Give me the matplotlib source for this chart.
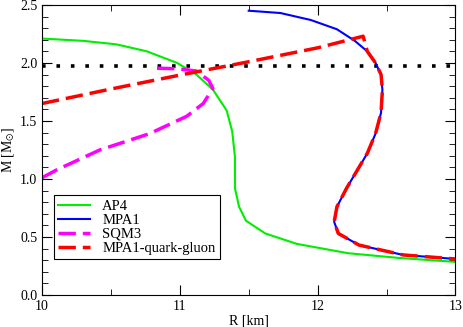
import numpy as np
import matplotlib
matplotlib.use("Agg")
import matplotlib.pyplot as plt
from matplotlib.ticker import MultipleLocator

plt.rcParams['font.family'] = ['Liberation Serif', 'DejaVu Serif']
plt.rcParams['mathtext.fontset'] = 'stix'

# mass-radius curves (R in km, M in solar masses)
ap4_r = [10.0, 10.30, 10.54, 10.76, 10.98, 11.12, 11.24, 11.34, 11.38, 11.40,
         11.40, 11.43, 11.48, 11.62, 11.85, 12.22, 12.58, 13.0]
ap4_m = [2.21, 2.19, 2.16, 2.10, 2.00, 1.90, 1.77, 1.59, 1.41, 1.19,
         0.92, 0.76, 0.64, 0.53, 0.44, 0.36, 0.32, 0.285]

mpa1_r = [11.50, 11.73, 11.95, 12.14, 12.27, 12.36, 12.42, 12.46, 12.47, 12.46,
          12.42, 12.36, 12.29, 12.21, 12.14, 12.12, 12.15, 12.30, 12.62, 13.0]
mpa1_m = [2.45, 2.43, 2.37, 2.29, 2.19, 2.10, 2.00, 1.90, 1.77, 1.57,
          1.39, 1.22, 1.08, 0.92, 0.76, 0.63, 0.53, 0.43, 0.345, 0.31]

sqm3_r = [10.0, 10.11, 10.42, 10.78, 11.05, 11.17, 11.24, 11.21, 11.12, 10.98, 10.81]
sqm3_m = [1.01, 1.08, 1.25, 1.39, 1.54, 1.65, 1.78, 1.85, 1.93, 1.95, 1.955]

# hybrid branch, joins MPA1 below the kink
qg_r = [10.0, 10.5, 11.0, 11.5, 12.0, 12.33] + mpa1_r[5:]
qg_m = [1.65, 1.775, 1.895, 2.01, 2.13, 2.23] + mpa1_m[5:]

m_obs = 1.97

fig = plt.figure(figsize=(4.63, 3.27), dpi=100)
ax = fig.add_axes([0.0907, 0.098, 0.893, 0.887])

ax.axhline(m_obs, color='black', ls=(0, (1, 3)), lw=2.6)
ax.plot(ap4_r, ap4_m, color='#00ee00', lw=1.5, label='AP4')
ax.plot(mpa1_r, mpa1_m, color='#0000ff', lw=1.5, label='MPA1')
ax.plot(sqm3_r, sqm3_m, color='#ff00ff', lw=2.5, dashes=(5, 2), label='SQM3')
ax.plot(qg_r, qg_m, color='#ff0000', lw=2.5, dashes=(5, 2), label='MPA1-quark-gluon')

ax.set_xlim(10, 13)
ax.set_ylim(0, 2.5)
ax.xaxis.set_major_locator(MultipleLocator(1))
ax.xaxis.set_minor_locator(MultipleLocator(0.5))
ax.yaxis.set_major_locator(MultipleLocator(0.5))
ax.yaxis.set_minor_locator(MultipleLocator(0.1))
ax.tick_params(which='both', direction='in', top=True, right=True, labelsize=10)
ax.tick_params(which='major', length=7)
ax.tick_params(which='minor', length=4)

ax.set_xlabel('R [km]', fontsize=10, labelpad=1)
ax.set_ylabel(r'M [M$_{\odot}$]', fontsize=10, labelpad=2)

leg = ax.legend(loc='lower left', bbox_to_anchor=(0.029, 0.124), fontsize=10.5,
                fancybox=False, edgecolor='black', framealpha=1,
                handlelength=2.2, labelspacing=0.05, borderpad=0.3,
                handletextpad=0.8, borderaxespad=0)
leg.get_frame().set_linewidth(0.8)

fig.savefig('out.png', dpi=100)
